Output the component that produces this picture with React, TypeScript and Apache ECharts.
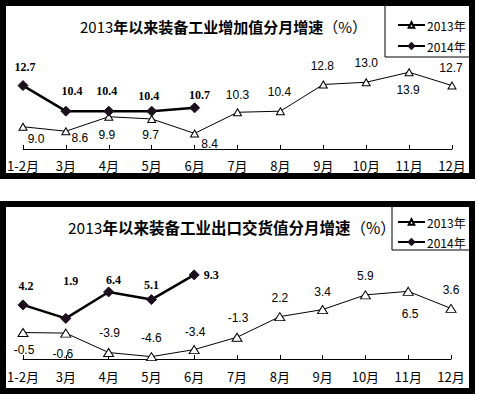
import React, { useEffect, useRef } from "react";
import * as echarts from "echarts";

const categories = ["1-2月", "3月", "4月", "5月", "6月", "7月", "8月", "9月", "10月", "11月", "12月"];
const seriesNames = ["2013年", "2014年"];

// 增加值分月增速 (%)
const addedValue2013 = [9.0, 8.6, 9.9, 9.7, 8.4, 10.3, 10.4, 12.8, 13.0, 13.9, 12.7];
const addedValue2014 = [12.7, 10.4, 10.4, 10.4, 10.7];

// 出口交货值分月增速 (%)
const export2013 = [-0.5, -0.6, -3.9, -4.6, -3.4, -1.3, 2.2, 3.4, 5.9, 6.5, 3.6];
const export2014 = [4.2, 1.9, 6.4, 5.1, 9.3];

// label offsets (layout only)
const topOff2013 = [[13, 12], [14, 7], [-2, 18], [-1, 16], [15, 11], [0, -17], [-1, -19], [-1, -18], [0, -19], [-1, 18], [-1, -18]];
const topOff2014 = [[2, -19], [6, -20], [-2, -20], [-3, -15], [5, -13]];
const botOff2013 = [[1, 17], [-3, 21], [1, -20], [0, -19], [1, -18], [1, -19], [0, -19], [0, -18], [0, -19], [2, 23], [0, -18]];
const botOff2014 = [[3, -19], [5, -37], [5, -12], [0, -15], [17, 0]];

const CJK = "Noto Sans CJK SC";
const fmt = (p: any) => Number(p.value).toFixed(1);

function withLabels(values: number[], offs: number[][]) {
  return values.map((v, i) => ({ value: v, label: { offset: offs[i] } }));
}

function s2013(values: number[], offs: number[][], idx: number, size: number[]) {
  return {
    name: seriesNames[0],
    type: "line",
    xAxisIndex: idx,
    yAxisIndex: idx,
    data: withLabels(values, offs),
    symbol: "triangle",
    symbolSize: size,
    showAllSymbol: true,
    lineStyle: { color: "#000", width: 1 },
    itemStyle: { color: "#fff", borderColor: "#000", borderWidth: 1 },
    label: {
      show: true,
      position: "inside",
      formatter: fmt,
      fontSize: 12,
      fontFamily: "Liberation Sans",
      color: "#000",
    },
    z: 3,
  };
}

function s2014(values: number[], offs: number[][], idx: number) {
  return {
    name: seriesNames[1],
    type: "line",
    xAxisIndex: idx,
    yAxisIndex: idx,
    data: withLabels(values, offs),
    symbol: "diamond",
    symbolSize: 10,
    showAllSymbol: true,
    lineStyle: { color: "#000", width: 2.5 },
    itemStyle: { color: "#1e0f1e", borderColor: "#1e0f1e", borderWidth: 1 },
    label: {
      show: true,
      position: "inside",
      formatter: fmt,
      fontSize: 12,
      fontWeight: "bold",
      fontFamily: "Liberation Serif",
      color: "#000",
    },
    z: 4,
  };
}

function xAxis(idx: number, margin: number) {
  return {
    gridIndex: idx,
    type: "category",
    data: categories,
    boundaryGap: false,
    axisLine: { onZero: false, lineStyle: { color: "#000", width: 1 } },
    axisTick: { inside: true, length: 4, lineStyle: { color: "#000" } },
    axisLabel: { interval: 0, margin, fontSize: 13, color: "#000", fontFamily: CJK },
    splitLine: { show: false },
  };
}

function titleRich(size: number) {
  return {
    a: { fontSize: size, fontFamily: CJK, fontWeight: "normal", color: "#000" },
    b: { fontSize: size, fontFamily: CJK, fontWeight: "bold", color: "#000" },
  };
}

function legend(top: number, gap: number) {
  return {
    data: seriesNames,
    orient: "vertical",
    left: 392,
    top,
    itemWidth: 27,
    itemHeight: 7,
    itemGap: gap,
    selectedMode: false,
    textStyle: { fontSize: 12, fontFamily: CJK, color: "#000", padding: [0, 0, 0, -3] },
  };
}

export default function App() {
  const ref = useRef<HTMLDivElement>(null);
  useEffect(() => {
    document.body.style.margin = "0";
    const chart = echarts.init(ref.current!, null, { renderer: "svg" });
    chart.setOption({
      animation: false,
      backgroundColor: "#fff",
      title: [
        {
          text: "{a|2013}{b|年以来装备工业增加值分月增速}{a|（%）}",
          left: 75,
          top: 14,
          textStyle: { rich: titleRich(15) },
        },
        {
          text: "{a|2013}{b|年以来装备工业出口交货值分月增速}{a|（%）}",
          left: 63,
          top: 214,
          textStyle: { rich: titleRich(15.5) },
        },
      ],
      legend: [legend(14, 9), legend(211, 8)],
      grid: [
        { left: 23, right: 26, top: 60, bottom: 247 },
        { left: 23, right: 27, top: 259, bottom: 37 },
      ],
      xAxis: [xAxis(0, 10), xAxis(1, 11)],
      yAxis: [
        { gridIndex: 0, type: "value", min: 7, max: 15, show: false },
        { gridIndex: 1, type: "value", min: -5, max: 12, show: false },
      ],
      series: [
        s2013(addedValue2013, topOff2013, 0, [8, 7]),
        s2014(addedValue2014, topOff2014, 0),
        s2013(export2013, botOff2013, 1, [10, 8]),
        s2014(export2014, botOff2014, 1),
      ],
      graphic: [
        { type: "rect", z: 1, shape: { x: 385, y: 3, width: 87, height: 54 }, style: { fill: "#fff", stroke: "#000", lineWidth: 1 } },
        { type: "rect", z: 1, shape: { x: 392, y: 204, width: 80, height: 46 }, style: { fill: "#fff", stroke: "#000", lineWidth: 1 } },
        { type: "rect", z: 10, shape: { x: 3, y: 3, width: 469, height: 173 }, style: { fill: "none", stroke: "#000", lineWidth: 6 } },
        { type: "rect", z: 10, shape: { x: 3, y: 204, width: 469, height: 187 }, style: { fill: "none", stroke: "#000", lineWidth: 6 } },
      ],
    });
    return () => chart.dispose();
  }, []);
  return <div ref={ref} style={{ position: "absolute", left: 0, top: 0, width: 478, height: 396 }} />;
}
